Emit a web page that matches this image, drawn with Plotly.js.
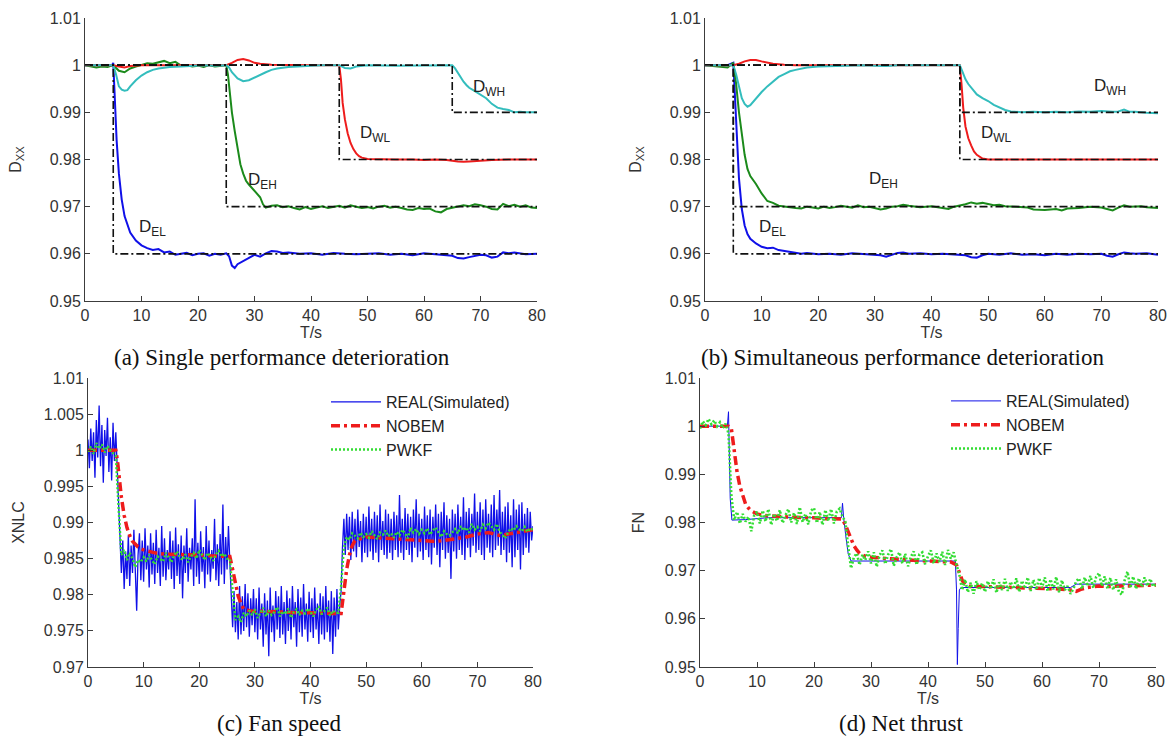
<!DOCTYPE html>
<html>
<head>
<meta charset="utf-8">
<script src="https://cdn.plot.ly/plotly-3.0.1.min.js"></script>
<style>
  html, body { margin: 0; padding: 0; background: #ffffff; }
  #chart { width: 1171px; height: 738px; }
</style>
</head>
<body>
<div id="chart"></div>
<script>
// ---------- shared axis labels ----------
const TIME_TICKS = [0, 10, 20, 30, 40, 50, 60, 70, 80];
const TIME_LABELS = ['0', '10', '20', '30', '40', '50', '60', '70', '80'];
const DXX_TICKS = [0.95, 0.96, 0.97, 0.98, 0.99, 1.0, 1.01];
const DXX_LABELS = ['0.95', '0.96', '0.97', '0.98', '0.99', '1', '1.01'];
const XNLC_TICKS = [0.97, 0.975, 0.98, 0.985, 0.99, 0.995, 1.0, 1.005, 1.01];
const XNLC_LABELS = ['0.97', '0.975', '0.98', '0.985', '0.99', '0.995', '1', '1.005', '1.01'];
const FN_TICKS = DXX_TICKS;
const FN_LABELS = DXX_LABELS;

// ---------- (a) single performance deterioration: [time, value] ----------
const A_EL = [[0,1.0],[2,1.0],[4,1.0],[4.8,1.0],[5,1.0005],[5.3,0.992],[5.6,0.984],[6,0.977],[6.5,0.9715],[7,0.968],[7.5,0.966],[8,0.9645],[9,0.9628],[10,0.9618],[11,0.9612],[12,0.9608],[13,0.961],[14,0.9603],[15,0.9605],[16,0.9598],[17,0.96],[18,0.9602],[19,0.9597],[20,0.96],[21,0.9601],[22,0.9596],[23,0.96],[24,0.9598],[25,0.9601],[25.5,0.9595],[26,0.9575],[26.5,0.957],[27,0.9578],[28,0.9585],[29,0.9592],[30,0.9598],[31,0.9594],[32,0.9601],[33,0.9606],[34,0.9605],[35,0.9602],[36,0.9603],[38,0.96],[40,0.9601],[42,0.9598],[44,0.9602],[46,0.96],[48,0.9599],[50,0.96],[52,0.9601],[54,0.9598],[56,0.96],[58,0.9597],[60,0.9601],[62,0.9599],[64,0.9598],[65,0.9596],[66,0.9591],[67,0.959],[68,0.9593],[70,0.9598],[71,0.9597],[72,0.9592],[73,0.9594],[74,0.9603],[75,0.9601],[76,0.9603],[78,0.9599],[80,0.96]];
const A_EH = [[0,1.0],[2,0.9995],[3,0.9997],[4,0.9996],[5,1.0],[6,0.9988],[7,0.9985],[8,0.9993],[9,0.9997],[10,1.0],[11,1.0004],[12,1.0003],[13,1.0006],[14,1.0009],[15,1.0004],[16,1.0007],[17,0.9999],[18,1.0],[19,0.9997],[20,0.9999],[21,0.9996],[22,1.0],[23,0.9997],[24,0.9999],[25,1.0],[25.3,0.998],[25.6,0.994],[26,0.99],[26.5,0.986],[27,0.982],[27.5,0.979],[28,0.977],[28.5,0.9755],[29,0.9747],[29.5,0.974],[30,0.9732],[30.5,0.9727],[31,0.972],[31.5,0.9705],[32,0.9698],[33,0.9702],[34,0.9703],[35,0.9699],[36,0.9701],[37,0.9697],[38,0.9694],[39,0.9699],[40,0.9695],[41,0.9698],[42,0.9701],[43,0.9697],[44,0.9699],[45,0.9702],[46,0.9698],[47,0.9703],[48,0.97],[49,0.9697],[50,0.9699],[51,0.9696],[52,0.97],[53,0.9702],[54,0.9698],[55,0.97],[56,0.9697],[57,0.9694],[58,0.9693],[59,0.9697],[60,0.9695],[61,0.9696],[62,0.969],[63,0.9688],[64,0.9695],[65,0.9698],[66,0.97],[67,0.9703],[68,0.9701],[69,0.9705],[70,0.9703],[71,0.97],[72,0.9695],[73,0.9694],[74,0.9706],[75,0.9701],[76,0.9704],[77,0.97],[78,0.9703],[79,0.9698],[80,0.9697]];
const A_WL = [[0,1.0],[5,1.0],[6,0.9997],[7,0.9995],[8,0.9998],[10,1.0],[20,1.0],[25,1.0],[26,1.0005],[27,1.0011],[28,1.0013],[29,1.001],[30,1.0005],[31,1.0003],[33,1.0001],[36,1.0],[40,1.0],[45,1.0],[45.3,0.997],[45.6,0.992],[46,0.9885],[46.5,0.9855],[47,0.9835],[47.5,0.9822],[48,0.9813],[48.5,0.9807],[49,0.9804],[50,0.9801],[52,0.98],[55,0.98],[58,0.98],[60,0.9799],[62,0.98],[64,0.9799],[66,0.9796],[67,0.9795],[68,0.9796],[70,0.9798],[72,0.9799],[75,0.98],[80,0.98]];
const A_WH = [[0,1.0],[2,1.0],[4,0.9999],[5,1.0],[5.5,0.998],[6,0.9955],[6.5,0.9948],[7,0.9946],[7.5,0.9947],[8,0.9955],[9,0.9968],[10,0.9978],[11,0.9985],[12,0.999],[13,0.9993],[14,0.9995],[15,0.9996],[17,0.9997],[19,0.9999],[21,1.0],[23,0.9999],[25,1.0],[25.5,0.9995],[26,0.9985],[27,0.9972],[28,0.9966],[29,0.9968],[30,0.9974],[31,0.998],[32,0.9985],[33,0.999],[34,0.9993],[36,0.9996],[38,0.9998],[40,0.9999],[42,1.0],[44,1.0],[45,1.0],[46,0.9994],[47,0.9993],[48,0.9997],[50,1.0],[55,0.9999],[60,1.0],[65,1.0],[65.5,0.9993],[66,0.9983],[66.5,0.9973],[67,0.9965],[67.5,0.9958],[68,0.9952],[69,0.9945],[70,0.9937],[71,0.993],[72,0.9918],[73,0.991],[74,0.9907],[75,0.9905],[76,0.99],[77,0.9901],[78,0.99],[80,0.99]];
// set-point steps
const A_REF_EL = [[0,1],[5,1],[5,0.96],[80,0.96]];
const A_REF_EH = [[0,1],[25,1],[25,0.97],[80,0.97]];
const A_REF_WL = [[0,1],[45,1],[45,0.98],[80,0.98]];
const A_REF_WH = [[0,1],[65,1],[65,0.99],[80,0.99]];

// ---------- (b) simultaneous performance deterioration ----------
const B_EL = [[0,1.0],[4,1.0],[5,1.0005],[5.3,0.993],[5.6,0.984],[6,0.976],[6.5,0.9695],[7,0.966],[7.5,0.9642],[8,0.9632],[9,0.9622],[10,0.9615],[11,0.9612],[12,0.9613],[13,0.9608],[14,0.9606],[15,0.9603],[16,0.9601],[17,0.96],[18,0.9602],[20,0.9599],[22,0.96],[24,0.9598],[26,0.9601],[28,0.96],[30,0.9599],[31,0.9597],[32,0.9594],[33,0.9598],[34,0.9602],[35,0.9603],[36,0.96],[38,0.9601],[40,0.9599],[42,0.96],[44,0.9598],[46,0.9597],[47,0.9593],[48,0.9592],[49,0.9597],[50,0.96],[52,0.9598],[54,0.9601],[56,0.9598],[58,0.9599],[60,0.9597],[62,0.96],[64,0.9598],[66,0.96],[68,0.9599],[70,0.96],[71,0.9596],[72,0.9594],[73,0.9599],[74,0.9603],[75,0.9601],[76,0.96],[78,0.9601],[80,0.9598]];
const B_EH = [[0,1.0],[2,0.9998],[4,0.9995],[5,1.0005],[5.5,0.996],[6,0.99],[6.5,0.985],[7,0.981],[7.5,0.978],[8,0.9765],[9,0.9748],[10,0.9728],[11,0.9712],[12,0.9708],[13,0.9702],[14,0.97],[15,0.9699],[16,0.9697],[17,0.9696],[18,0.97],[19,0.9698],[20,0.9696],[21,0.97],[22,0.9697],[23,0.9699],[24,0.9702],[25,0.97],[26,0.9698],[27,0.9703],[28,0.9699],[29,0.97],[30,0.9697],[31,0.9694],[32,0.9696],[33,0.97],[34,0.9701],[35,0.9704],[36,0.9702],[37,0.97],[38,0.9699],[40,0.9701],[42,0.9697],[43,0.9695],[44,0.97],[45,0.9702],[46,0.9705],[47,0.9709],[48,0.9706],[49,0.9708],[50,0.9705],[51,0.9703],[52,0.9704],[53,0.9701],[55,0.97],[57,0.9698],[58,0.9694],[60,0.9693],[62,0.9695],[63,0.9692],[64,0.9696],[66,0.9697],[68,0.97],[70,0.9698],[71,0.9695],[72,0.9692],[73,0.9698],[74,0.9703],[75,0.97],[77,0.9701],[78,0.9699],[80,0.9697]];
const B_WL = [[0,1.0],[5,1.0],[6,1.0003],[7,1.0008],[8,1.0011],[9,1.0011],[10,1.0008],[11,1.0005],[12,1.0003],[14,1.0001],[16,1.0],[20,1.0],[30,1.0],[40,1.0],[45,1.0],[45.3,0.996],[45.6,0.991],[46,0.987],[46.5,0.9845],[47,0.983],[47.5,0.9817],[48,0.981],[48.5,0.9805],[49,0.9802],[50,0.98],[55,0.98],[58,0.9799],[60,0.9799],[65,0.98],[70,0.9799],[72,0.98],[75,0.98],[80,0.98]];
const B_WH = [[0,1.0],[4,1.0],[5,1.0],[5.5,0.998],[6,0.9955],[6.5,0.993],[7,0.9918],[7.5,0.9912],[8,0.9915],[8.5,0.9922],[9,0.993],[10,0.9943],[11,0.9955],[12,0.9966],[13,0.9975],[14,0.9981],[15,0.9987],[16,0.999],[17,0.9993],[18,0.9995],[20,0.9997],[22,0.9998],[24,0.9999],[26,0.9999],[28,1.0],[30,0.9999],[32,0.9998],[34,1.0],[36,1.0],[40,1.0],[44,1.0],[45,1.0],[45.5,0.9985],[46,0.997],[46.5,0.996],[47,0.9952],[48,0.9938],[49,0.993],[50,0.9924],[51,0.9916],[52,0.991],[53,0.9905],[54,0.9902],[56,0.99],[58,0.9901],[60,0.99],[62,0.9901],[64,0.99],[66,0.9902],[68,0.9901],[70,0.9903],[72,0.9901],[73,0.9902],[74,0.9906],[75,0.9901],[76,0.9901],[78,0.9899],[80,0.9898]];
const B_REF_EL = [[0,1],[5,1],[5,0.96],[80,0.96]];
const B_REF_EH = [[0,1],[5,1],[5,0.97],[80,0.97]];
const B_REF_WL = [[0,1],[45,1],[45,0.98],[80,0.98]];
const B_REF_WH = [[0,1],[45,1],[45,0.99],[80,0.99]];

// ---------- (c) fan speed ----------
// measured signal, one sample every 0.25 s from 0 to 80 s
const FAN_STEP = 0.25;
const FAN_REAL = [
  1.0015,0.9975,1.003,0.9985,1.0025,0.9962,1.0042,0.999,1.0062,0.9978,1.0035,0.9955,1.0028,0.9992,1.0045,0.997,1.0018,0.9958,1.0038,0.9985,
  1.0025,0.9975,0.9935,0.9865,0.983,0.9875,0.9808,0.986,0.9822,0.9882,0.9812,0.9868,0.983,0.989,0.9815,0.9778,0.9855,0.9885,0.982,0.9875,
  0.9818,0.9892,0.9835,0.9868,0.981,0.9885,0.9828,0.9872,0.9815,0.989,0.983,0.9865,0.9812,0.9895,0.9825,0.9878,0.982,0.9862,0.9835,0.9888,
  0.9822,0.9875,0.9808,0.9893,0.9826,0.987,0.9815,0.9882,0.9795,0.9868,0.983,0.9892,0.9818,0.9865,0.9835,0.9878,0.9812,0.9932,0.9825,0.9872,
  0.9815,0.9888,0.9832,0.9866,0.9809,0.9895,0.9828,0.9875,0.9818,0.9862,0.9836,0.9905,0.982,0.987,0.9812,0.9884,0.9828,0.9925,0.9815,0.988,
  0.9835,0.9895,0.9845,0.979,0.9755,0.9805,0.9748,0.979,0.9738,0.9812,0.9745,0.9798,0.975,0.9815,0.9755,0.9802,0.9742,0.9795,0.9758,0.9808,
  0.9748,0.9795,0.9738,0.981,0.9752,0.9788,0.9728,0.9802,0.9745,0.9792,0.9715,0.981,0.9748,0.9785,0.9735,0.9805,0.9752,0.9798,0.974,0.9812,
  0.9745,0.979,0.9732,0.9806,0.975,0.9795,0.9738,0.9812,0.9755,0.979,0.9728,0.9808,0.9748,0.9796,0.9742,0.9815,0.9752,0.9788,0.9735,0.9804,
  0.9748,0.9795,0.974,0.981,0.9752,0.9788,0.9732,0.9802,0.9745,0.9798,0.9738,0.9812,0.9748,0.9792,0.9735,0.9805,0.9718,0.9796,0.9742,0.9808,
  0.9752,0.9785,0.9805,0.9865,0.9905,0.9855,0.9912,0.9862,0.9908,0.9848,0.9915,0.986,0.9905,0.9852,0.9918,0.9866,0.9902,0.9845,0.9912,0.9858,
  0.9908,0.9852,0.9922,0.986,0.9905,0.9848,0.9915,0.9858,0.991,0.9845,0.9925,0.9862,0.9902,0.9855,0.9918,0.985,0.9912,0.9858,0.9905,0.9848,
  0.9915,0.9862,0.991,0.9852,0.9938,0.9858,0.9905,0.9848,0.992,0.9862,0.9912,0.9855,0.9908,0.9845,0.9918,0.9865,0.9932,0.9852,0.9912,0.986,
  0.9905,0.9848,0.9922,0.9862,0.991,0.9852,0.9918,0.9842,0.9908,0.9865,0.9925,0.9855,0.9912,0.9838,0.9915,0.9862,0.9928,0.985,0.991,0.9858,
  0.9905,0.9822,0.9918,0.986,0.9912,0.985,0.9925,0.9862,0.9908,0.9855,0.9935,0.9848,0.9915,0.9865,0.992,0.9852,0.9912,0.9868,0.994,0.9858,
  0.9915,0.9862,0.9928,0.9855,0.9918,0.9848,0.9932,0.9865,0.9912,0.9858,0.9925,0.9852,0.9938,0.9862,0.9918,0.9868,0.9945,0.9855,0.9915,0.9862,
  0.9922,0.9845,0.9928,0.9858,0.991,0.9838,0.9932,0.9852,0.9918,0.9862,0.9925,0.9835,0.9928,0.9855,0.9912,0.9865,0.992,0.9858,0.9915,0.9875,
  0.9895
];
// filter estimate, one sample every 0.5 s
const FILTER_STEP = 0.5;
const FAN_PWKF = [
  0.9998,1.0005,0.9995,1.001,1.0002,1.0008,0.9997,1.0006,1.0,0.9996,
  0.9992,0.992,0.9855,0.9862,0.9848,0.9858,0.985,0.9838,0.9848,0.9845,
  0.9852,0.9846,0.9855,0.9848,0.9842,0.9853,0.985,0.9846,0.9858,0.9851,
  0.9845,0.9855,0.986,0.9852,0.9848,0.9856,0.9845,0.9853,0.9858,0.985,
  0.9862,0.9855,0.9848,0.9858,0.9852,0.9847,0.9856,0.9861,0.9853,0.9857,
  0.985,0.985,0.9805,0.9765,0.977,0.9762,0.9775,0.977,0.9778,0.9772,
  0.978,0.9768,0.9775,0.9782,0.977,0.9778,0.9772,0.9776,0.9783,0.977,
  0.9777,0.9773,0.9781,0.9768,0.9776,0.978,0.9772,0.9778,0.9774,0.9781,
  0.9776,0.977,0.9779,0.9784,0.9773,0.9777,0.9782,0.9771,0.9778,0.9775,
  0.9775,0.9812,0.9865,0.988,0.9876,0.9885,0.9882,0.9878,0.9886,0.988,
  0.9884,0.9879,0.9888,0.9882,0.9877,0.9886,0.9883,0.9889,0.9881,0.9885,
  0.9879,0.9887,0.9882,0.989,0.9885,0.9878,0.9893,0.9886,0.9891,0.9884,
  0.989,0.9885,0.9892,0.9883,0.9889,0.9893,0.9886,0.988,0.9888,0.9884,
  0.9882,0.9887,0.9891,0.9885,0.9895,0.9889,0.9893,0.9886,0.9898,0.989,
  0.9894,0.9888,0.9897,0.9892,0.99,0.9895,0.989,0.9898,0.9887,0.9883,
  0.9878,0.9886,0.9892,0.9889,0.9895,0.9891,0.9888,0.9894,0.9887,0.9892,
  0.989
];
const FAN_NOBEM = [[0,1.0],[2,1.0],[4,1.0],[5,1.0],[5.3,0.9985],[5.6,0.996],[6,0.9935],[6.5,0.991],[7,0.9893],[7.5,0.9882],[8,0.9874],[9,0.9866],[10,0.9862],[11,0.986],[12,0.9858],[14,0.9856],[16,0.9856],[18,0.9855],[20,0.9855],[22,0.9854],[24,0.9853],[25.5,0.9853],[26,0.9835],[26.5,0.9815],[27,0.9798],[27.5,0.9788],[28,0.978],[29,0.9778],[30,0.9777],[32,0.9777],[34,0.9776],[36,0.9776],[38,0.9775],[40,0.9775],[42,0.9774],[44,0.9774],[45.5,0.9774],[46,0.9805],[46.5,0.9835],[47,0.9855],[47.5,0.9868],[48,0.9875],[49,0.9878],[50,0.988],[52,0.9879],[55,0.9878],[58,0.9876],[60,0.9875],[62,0.9874],[64,0.9875],[66,0.9877],[68,0.988],[70,0.9884],[72,0.9886],[74,0.9882],[76,0.9885],[78,0.9888],[80,0.989]];

// ---------- (d) net thrust ----------
const FN_REAL = [[0,1.0],[4.8,1.0],[5,1.003],[5.1,0.9985],[5.3,0.985],[5.6,0.9805],[6,0.9805],[8,0.9806],[10,0.9808],[12,0.981],[15,0.981],[20,0.981],[24.8,0.981],[25,0.984],[25.2,0.981],[25.6,0.977],[26,0.9735],[26.5,0.972],[28,0.972],[32,0.972],[36,0.972],[40,0.972],[44.8,0.972],[45,0.966],[45.15,0.9505],[45.3,0.958],[45.5,0.966],[45.8,0.9665],[50,0.9665],[55,0.9665],[60,0.9665],[65,0.9665],[66,0.9672],[70,0.9672],[75,0.9672],[80,0.9672]];
const FN_NOBEM = [[0,1.0],[5,1.0],[5.5,0.9995],[6,0.995],[6.5,0.9905],[7,0.9875],[7.5,0.9855],[8,0.9838],[8.5,0.983],[9,0.9824],[10,0.9818],[11,0.9815],[12,0.9814],[14,0.9812],[16,0.9811],[18,0.981],[20,0.981],[22,0.9808],[24,0.9807],[25,0.9807],[25.5,0.9795],[26,0.978],[26.5,0.9765],[27,0.9752],[27.5,0.9743],[28,0.9736],[29,0.973],[30,0.9728],[32,0.9726],[34,0.9724],[36,0.9722],[38,0.9721],[40,0.972],[42,0.9719],[44,0.9718],[45,0.9712],[45.5,0.9695],[46,0.968],[46.5,0.9672],[47,0.9668],[48,0.9667],[50,0.9667],[55,0.9665],[60,0.9664],[63,0.9662],[65,0.966],[66,0.9657],[67,0.9662],[68,0.9665],[70,0.9668],[72,0.9667],[74,0.9668],[76,0.9669],[78,0.9669],[80,0.967]];
const FN_PWKF = [
  0.9995,1.001,1.0002,1.0015,1.0004,1.0012,1.0,1.0008,0.9996,1.0005,
  0.9985,0.9855,0.9805,0.9822,0.9798,0.9818,0.9802,0.9812,0.9782,0.9815,
  0.9822,0.9798,0.9825,0.9802,0.9828,0.9795,0.9818,0.9803,0.9826,0.9799,
  0.9815,0.9828,0.98,0.982,0.9797,0.9832,0.9801,0.9818,0.9796,0.9825,
  0.983,0.9799,0.9822,0.9795,0.9826,0.9803,0.9828,0.9798,0.9823,0.9829,
  0.9812,0.9802,0.975,0.9705,0.9728,0.9736,0.9712,0.9733,0.9722,0.974,
  0.9715,0.9738,0.9708,0.9732,0.9742,0.9714,0.9733,0.9745,0.971,0.9728,
  0.9738,0.9715,0.9735,0.9709,0.9729,0.974,0.9712,0.9734,0.9738,0.9713,
  0.973,0.9742,0.9715,0.9736,0.9718,0.9739,0.9712,0.9743,0.9725,0.9738,
  0.9712,0.9692,0.966,0.9682,0.9655,0.9675,0.9652,0.9678,0.966,0.9674,
  0.9656,0.9678,0.9662,0.9682,0.9654,0.9676,0.966,0.9683,0.9658,0.9677,
  0.9662,0.9684,0.9656,0.9679,0.9663,0.9686,0.9658,0.9681,0.966,0.9685,
  0.9664,0.9686,0.9657,0.9682,0.9661,0.9687,0.9655,0.968,0.966,0.9668,
  0.9652,0.9662,0.9678,0.9684,0.9662,0.9686,0.9668,0.9689,0.9664,0.9687,
  0.9695,0.9668,0.9688,0.9662,0.9685,0.966,0.9682,0.9656,0.965,0.968,
  0.9698,0.9664,0.9688,0.9662,0.9684,0.9666,0.9686,0.9668,0.9683,0.9667,
  0.9672
];

// ---------- styling ----------
const C_BLUE = '#1010e8';
const C_GREEN = '#1b8a1b';
const C_RED = '#ee1c1c';
const C_CYAN = '#33bdbd';
const C_LIME = '#33dd33';
const AXIS_COLOR = '#3c3c3c';
const SANS = 'Liberation Sans, Arial, sans-serif';
const SERIF = 'Liberation Serif, Times New Roman, serif';

const xs = pts => pts.map(p => p[0]);
const ys = pts => pts.map(p => p[1]);
const timeGrid = (n, step) => Array.from({length: n}, (_, i) => i * step);

function line(pts, ax, color, width, dash, extra) {
  return Object.assign({
    type: 'scatter', mode: 'lines', x: xs(pts), y: ys(pts),
    xaxis: 'x' + ax, yaxis: 'y' + ax, showlegend: false, hoverinfo: 'skip',
    line: {color: color, width: width, dash: dash || 'solid'}
  }, extra || {});
}

const REF_DASH = '8px,3px,2px,3px';
const NOBEM_DASH = '9px,4px,3px,4px';
const PWKF_DASH = '2px,2px';

const traces = [];
// (a)
[[A_EL, C_BLUE], [A_EH, C_GREEN], [A_WL, C_RED], [A_WH, C_CYAN]].forEach(([p, c]) => traces.push(line(p, '', c, 2)));
[A_REF_EL, A_REF_EH, A_REF_WL, A_REF_WH].forEach(p => traces.push(line(p, '', '#111111', 1.6, REF_DASH)));
// (b)
[[B_EL, C_BLUE], [B_EH, C_GREEN], [B_WL, C_RED], [B_WH, C_CYAN]].forEach(([p, c]) => traces.push(line(p, '2', c, 2)));
[B_REF_EL, B_REF_EH, B_REF_WL, B_REF_WH].forEach(p => traces.push(line(p, '2', '#111111', 1.6, REF_DASH)));

// (c)
const fanT = timeGrid(FAN_REAL.length, FAN_STEP);
const pwkfT = timeGrid(FAN_PWKF.length, FILTER_STEP);
traces.push({type: 'scatter', mode: 'lines', x: fanT, y: FAN_REAL, xaxis: 'x3', yaxis: 'y3',
  name: 'REAL(Simulated)', legend: 'legend', hoverinfo: 'skip', line: {color: C_BLUE, width: 1.3}});
traces.push(line(FAN_NOBEM, '3', C_RED, 3.5, NOBEM_DASH, {name: 'NOBEM', showlegend: true, legend: 'legend'}));
traces.push({type: 'scatter', mode: 'lines', x: pwkfT, y: FAN_PWKF, xaxis: 'x3', yaxis: 'y3',
  name: 'PWKF', legend: 'legend', hoverinfo: 'skip', line: {color: C_LIME, width: 2.4, dash: PWKF_DASH}});

// (d)
const fnT = timeGrid(FN_PWKF.length, FILTER_STEP);
traces.push(line(FN_REAL, '4', C_BLUE, 1, 'solid', {name: 'REAL(Simulated)', showlegend: true, legend: 'legend2'}));
traces.push(line(FN_NOBEM, '4', C_RED, 3.5, NOBEM_DASH, {name: 'NOBEM', showlegend: true, legend: 'legend2'}));
traces.push({type: 'scatter', mode: 'lines', x: fnT, y: FN_PWKF, xaxis: 'x4', yaxis: 'y4',
  name: 'PWKF', legend: 'legend2', hoverinfo: 'skip', line: {color: C_LIME, width: 2.6, dash: PWKF_DASH}});

// ---------- axes ----------
const W = 1171, H = 738;
const px = v => v / W;
const py = v => 1 - v / H;

function xAxis(domain, anchor) {
  return {
    domain: domain, anchor: anchor, range: [0, 80],
    tickmode: 'array', tickvals: TIME_TICKS, ticktext: TIME_LABELS,
    showline: true, linecolor: AXIS_COLOR, linewidth: 1,
    ticks: 'inside', ticklen: 5, tickwidth: 1, tickcolor: AXIS_COLOR,
    showgrid: false, zeroline: false, fixedrange: true,
    tickfont: {family: SANS, size: 16, color: '#333'},
    title: {text: 'T/s', font: {family: SANS, size: 16, color: '#333'}, standoff: 1}
  };
}
function yAxis(domain, anchor, range, vals, labels, title, standoff) {
  return {
    domain: domain, anchor: anchor, range: range,
    tickmode: 'array', tickvals: vals, ticktext: labels,
    showline: true, linecolor: AXIS_COLOR, linewidth: 1,
    ticks: 'inside', ticklen: 5, tickwidth: 1, tickcolor: AXIS_COLOR,
    showgrid: false, zeroline: false, fixedrange: true,
    tickfont: {family: SANS, size: 16, color: '#333'},
    title: {text: title, font: {family: SANS, size: 16, color: '#333'}, standoff: standoff}
  };
}

const topY = [py(301), py(18)];
const botY = [py(667), py(378)];

function subLabel(txt, sub, x, y, ax) {
  return {text: txt + '<sub>' + sub + '</sub>', x: x, y: y, xref: 'x' + ax, yref: 'y' + ax,
    showarrow: false, font: {family: SANS, size: 17, color: '#222'}, xanchor: 'center', yanchor: 'middle'};
}
function caption(txt, xc, yc) {
  return {text: txt, x: px(xc), y: py(yc), xref: 'paper', yref: 'paper', showarrow: false,
    font: {family: SERIF, size: 23, color: '#111'}, xanchor: 'center', yanchor: 'middle'};
}

const legendBase = {
  bgcolor: 'rgba(0,0,0,0)', borderwidth: 0, xanchor: 'left', yanchor: 'top',
  font: {family: SANS, size: 16, color: '#222'}, tracegroupgap: 0, itemwidth: 50,
  traceorder: 'normal'
};

const layout = {
  width: W, height: H, margin: {l: 0, r: 0, t: 0, b: 0},
  paper_bgcolor: '#ffffff', plot_bgcolor: '#ffffff',
  showlegend: true,
  xaxis: xAxis([px(85), px(537)], 'y'),
  yaxis: yAxis(topY, 'x', [0.95, 1.01], DXX_TICKS, DXX_LABELS, 'D<sub>XX</sub>', 24),
  xaxis2: xAxis([px(705), px(1158)], 'y2'),
  yaxis2: yAxis(topY, 'x2', [0.95, 1.01], DXX_TICKS, DXX_LABELS, 'D<sub>XX</sub>', 24),
  xaxis3: xAxis([px(88), px(533)], 'y3'),
  yaxis3: yAxis(botY, 'x3', [0.97, 1.01], XNLC_TICKS, XNLC_LABELS, 'XNLC', 15),
  xaxis4: xAxis([px(700), px(1156)], 'y4'),
  yaxis4: yAxis(botY, 'x4', [0.95, 1.01], FN_TICKS, FN_LABELS, 'FN', 16),
  legend: Object.assign({}, legendBase, {x: px(326), y: py(385)}),
  legend2: Object.assign({}, legendBase, {x: px(946), y: py(384)}),
  annotations: [
    subLabel('D', 'EL', 12, 0.9654, ''),
    subLabel('D', 'EH', 31.5, 0.9754, ''),
    subLabel('D', 'WL', 51.5, 0.9855, ''),
    subLabel('D', 'WH', 71.5, 0.9952, ''),
    subLabel('D', 'EL', 12, 0.9654, '2'),
    subLabel('D', 'EH', 31.5, 0.9756, '2'),
    subLabel('D', 'WL', 51.5, 0.9855, '2'),
    subLabel('D', 'WH', 71.5, 0.9954, '2'),
    caption('(a) Single performance deterioration', 282, 357),
    caption('(b) Simultaneous performance deterioration', 902, 357),
    caption('(c) Fan speed', 279, 723),
    caption('(d) Net thrust', 901, 723)
  ]
};

Plotly.newPlot('chart', traces, layout, {staticPlot: true, displayModeBar: false});
</script>
</body>
</html>
